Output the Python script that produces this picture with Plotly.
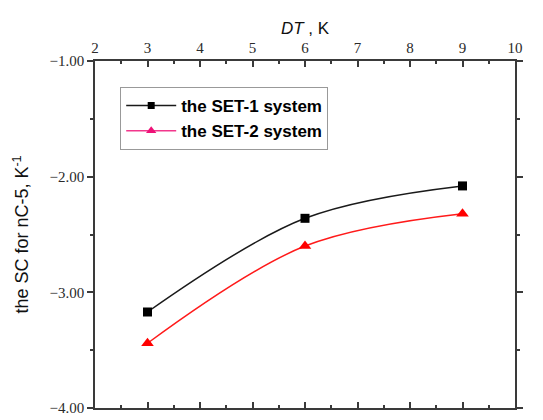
import plotly.graph_objects as go

dt = [3, 6, 9]
set1 = [-3.17, -2.36, -2.08]
set2 = [-3.44, -2.60, -2.32]
names = ["the SET-1 system", "the SET-2 system"]

fig = go.Figure()
fig.add_trace(go.Scatter(x=dt, y=set1, mode="lines+markers", line=dict(color="#1a1a1a", width=1.5, shape="spline"),
                         marker=dict(symbol="square", size=9, color="#000000"), showlegend=False))
fig.add_trace(go.Scatter(x=dt, y=set2, mode="lines+markers", line=dict(color="#ff1a1a", width=1.5, shape="spline"),
                         marker=dict(symbol="triangle-up", size=11, color="#ff0000"), showlegend=False))
# legend entries
fig.add_trace(go.Scatter(x=[None], y=[None], mode="lines+markers", name=names[0],
                         line=dict(color="#1a1a1a", width=1.5), marker=dict(symbol="square", size=7, color="#000000")))
fig.add_trace(go.Scatter(x=[None], y=[None], mode="lines+markers", name=names[1],
                         line=dict(color="#f2378c", width=1.5), marker=dict(symbol="triangle-up", size=9, color="#ee1177")))

axis_common = dict(showline=True, linecolor="#3a3a3a", linewidth=1.5, mirror="ticks", showgrid=False, zeroline=False,
                   tickcolor="#3a3a3a", tickwidth=1.5,
                   tickfont=dict(family="Liberation Serif", size=15, color="#2a2a2a"))

fig.update_xaxes(range=[2, 10], dtick=1, tick0=2, side="top", ticks="inside", ticklen=6,
                 minor=dict(dtick=0.5, ticks="inside", ticklen=3, tickcolor="#3a3a3a"),
                 title=dict(text="<i>DT</i> , K", font=dict(family="Liberation Sans", size=17, color="#111"), standoff=1),
                 **axis_common)
fig.update_yaxes(range=[-4, -1], dtick=1, tick0=-4, ticks="outside", ticklen=6, tickformat=".2f",
                 minor=dict(dtick=0.5, ticks="outside", ticklen=3, tickcolor="#3a3a3a"),
                 title=dict(text="the SC for nC-5, K<sup>-1</sup>", font=dict(family="Liberation Sans", size=18, color="#111"), standoff=16),
                 **axis_common)

fig.update_layout(
    width=543, height=420,
    margin=dict(l=87, r=36, t=53, b=16),
    plot_bgcolor="white", paper_bgcolor="white",
    legend=dict(x=0.06, y=0.925, xanchor="left", yanchor="top", bordercolor="#999", borderwidth=1,
                bgcolor="white", font=dict(family="Liberation Sans", size=17, color="#000", weight="bold"),
                itemwidth=50, tracegroupgap=0),
)

fig.write_html("out.html")
